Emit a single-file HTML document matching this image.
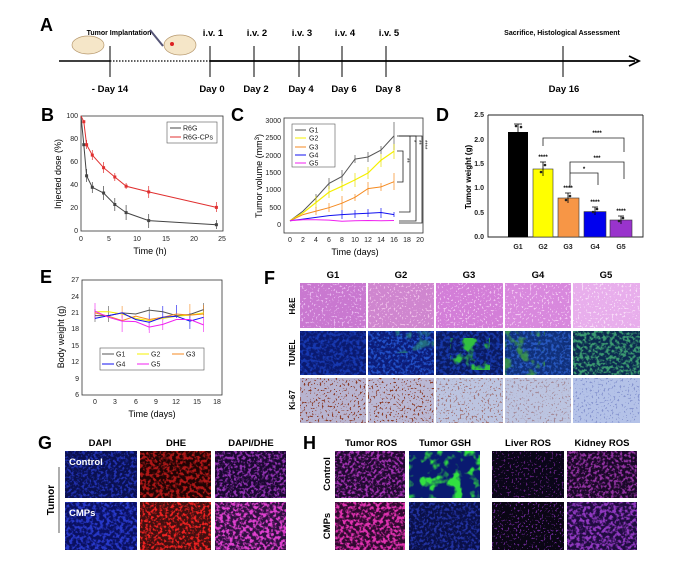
<!DOCTYPE html>
<html><head><meta charset="utf-8"><style>
html,body{margin:0;padding:0;background:#fff;}
svg{display:block;font-family:"Liberation Sans",Arial,sans-serif;}
.t{font-size:7px;fill:#222}
.b{font-weight:bold}
</style></head><body>
<svg width="692" height="573" viewBox="0 0 692 573" xmlns="http://www.w3.org/2000/svg">
<defs>
<filter id="s1" x="0" y="0" width="100%" height="100%"><feTurbulence type="fractalNoise" baseFrequency="0.35" numOctaves="2" seed="1" result="n"/><feColorMatrix in="n" type="matrix" values="0 0 0 0 0 0 0 0 0 0 0 0 0 0 0 5 0 0 0 -2.3" result="m"/><feComposite in="SourceGraphic" in2="m" operator="in"/></filter>
<filter id="s2" x="0" y="0" width="100%" height="100%"><feTurbulence type="fractalNoise" baseFrequency="0.3" numOctaves="2" seed="7" result="n"/><feColorMatrix in="n" type="matrix" values="0 0 0 0 0 0 0 0 0 0 0 0 0 0 0 5 0 0 0 -2.2" result="m"/><feComposite in="SourceGraphic" in2="m" operator="in"/></filter>
<filter id="s3" x="0" y="0" width="100%" height="100%"><feTurbulence type="fractalNoise" baseFrequency="0.08" numOctaves="3" seed="4" result="n"/><feColorMatrix in="n" type="matrix" values="0 0 0 0 0 0 0 0 0 0 0 0 0 0 0 6 0 0 0 -3" result="m"/><feComposite in="SourceGraphic" in2="m" operator="in"/></filter>
<filter id="s4" x="0" y="0" width="100%" height="100%"><feTurbulence type="fractalNoise" baseFrequency="0.5" numOctaves="1" seed="9" result="n"/><feColorMatrix in="n" type="matrix" values="0 0 0 0 0 0 0 0 0 0 0 0 0 0 0 8 0 0 0 -4.6" result="m"/><feComposite in="SourceGraphic" in2="m" operator="in"/></filter>
</defs>

<!-- Panel A -->
<text x="40" y="31" font-size="18" class="b">A</text>
<text x="119" y="35" font-size="7" text-anchor="middle" class="b">Tumor Implantation</text>
<ellipse cx="88" cy="45" rx="16" ry="9" fill="#f5e6c8" stroke="#b89a70" stroke-width="0.7"/>
<ellipse cx="180" cy="45" rx="16" ry="10" fill="#f5e6c8" stroke="#b89a70" stroke-width="0.7"/>
<circle cx="172" cy="44" r="2" fill="#d22"/>
<line x1="150" y1="30" x2="163" y2="46" stroke="#557" stroke-width="2"/>
<line x1="59" y1="61" x2="110" y2="61" stroke="#000" stroke-width="1.6"/>
<line x1="110" y1="61" x2="210" y2="61" stroke="#000" stroke-width="1.2" stroke-dasharray="1.5,1.5"/>
<line x1="210" y1="61" x2="635" y2="61" stroke="#000" stroke-width="1.8"/>
<path d="M629 56 L639 61 L629 66" fill="none" stroke="#000" stroke-width="1.8"/>
<g stroke="#000" stroke-width="1">
<line x1="110" y1="46" x2="110" y2="77"/><line x1="210" y1="46" x2="210" y2="77"/><line x1="254" y1="46" x2="254" y2="77"/><line x1="299" y1="46" x2="299" y2="77"/><line x1="342" y1="46" x2="342" y2="77"/><line x1="386" y1="46" x2="386" y2="77"/><line x1="563" y1="46" x2="563" y2="77"/>
</g>
<g font-size="9.5" class="b" text-anchor="middle">
<text x="213" y="36">i.v. 1</text><text x="257" y="36">i.v. 2</text><text x="302" y="36">i.v. 3</text><text x="345" y="36">i.v. 4</text><text x="389" y="36">i.v. 5</text>
<text x="110" y="92">- Day 14</text><text x="212" y="92">Day 0</text><text x="256" y="92">Day 2</text><text x="301" y="92">Day 4</text><text x="344" y="92">Day 6</text><text x="388" y="92">Day 8</text><text x="564" y="92">Day 16</text>
</g>
<text x="562" y="35" font-size="7" text-anchor="middle" class="b">Sacrifice,  Histological Assessment</text>

<!-- Panel B -->
<text x="41" y="121" font-size="18" class="b">B</text>
<rect x="81" y="116" width="142" height="115" fill="none" stroke="#333" stroke-width="0.8"/>
<g class="t" text-anchor="end"><text x="78" y="233">0</text><text x="78" y="210">20</text><text x="78" y="187">40</text><text x="78" y="164">60</text><text x="78" y="141">80</text><text x="78" y="118">100</text></g>
<g class="t" text-anchor="middle"><text x="81" y="241">0</text><text x="109" y="241">5</text><text x="137" y="241">10</text><text x="166" y="241">15</text><text x="194" y="241">20</text><text x="222" y="241">25</text></g>
<text x="150" y="254" font-size="9" text-anchor="middle">Time (h)</text>
<text transform="translate(61,174) rotate(-90)" font-size="9" text-anchor="middle">Injected dose (%)</text>
<polyline fill="none" stroke="#444" stroke-width="1" points="81,116 83.8,144.7 86.6,175.8 92.3,187.3 103.6,193 114.8,204.5 126.1,212.6 148.7,220.6 216.4,224.7"/>
<polyline fill="none" stroke="#e03030" stroke-width="1" points="81,116 83.8,121.7 86.6,144.7 92.3,155.1 103.6,167.7 114.8,177 126.1,186.2 148.7,191.9 216.4,207.4"/>
<g stroke="#444" stroke-width="0.7"><path d="M86.6 169v13M92.3 182v11M103.6 186v14M114.8 198v13M126.1 205v15M148.7 214v14M216.4 220v9"/></g>
<g stroke="#e03030" stroke-width="0.7"><path d="M86.6 140v9M92.3 150v10M103.6 162v11M114.8 173v8M126.1 183v6M148.7 186v12M216.4 202v10"/></g>
<g fill="#444"><rect x="82.3" y="143.2" width="3" height="3"/><rect x="85.1" y="174.3" width="3" height="3"/><rect x="90.8" y="185.8" width="3" height="3"/><rect x="102.1" y="191.5" width="3" height="3"/><rect x="113.3" y="203" width="3" height="3"/><rect x="124.6" y="211.1" width="3" height="3"/><rect x="147.2" y="219.1" width="3" height="3"/><rect x="214.9" y="223.2" width="3" height="3"/></g>
<g fill="#e03030"><rect x="82.3" y="120.2" width="3" height="3"/><rect x="85.1" y="143.2" width="3" height="3"/><rect x="90.8" y="153.6" width="3" height="3"/><rect x="102.1" y="166.2" width="3" height="3"/><rect x="113.3" y="175.5" width="3" height="3"/><rect x="124.6" y="184.7" width="3" height="3"/><rect x="147.2" y="190.4" width="3" height="3"/><rect x="214.9" y="205.9" width="3" height="3"/></g>
<rect x="167" y="122" width="50" height="21" fill="#fff" stroke="#555" stroke-width="0.6"/>
<line x1="170" y1="128" x2="181" y2="128" stroke="#444"/><text x="183" y="130.5" class="t">R6G</text>
<line x1="170" y1="137" x2="181" y2="137" stroke="#e03030"/><text x="183" y="139.5" class="t">R6G-CPs</text>

<!-- Panel C -->
<text x="231" y="121" font-size="18" class="b">C</text>
<rect x="284" y="118" width="139" height="115" fill="none" stroke="#333" stroke-width="0.8"/>
<g class="t" text-anchor="end"><text x="281" y="227">0</text><text x="281" y="210">500</text><text x="281" y="192">1000</text><text x="281" y="175">1500</text><text x="281" y="158">2000</text><text x="281" y="140">2500</text><text x="281" y="123">3000</text></g>
<g class="t" text-anchor="middle"><text x="290" y="242">0</text><text x="303" y="242">2</text><text x="316" y="242">4</text><text x="329" y="242">6</text><text x="342" y="242">8</text><text x="355" y="242">10</text><text x="368" y="242">12</text><text x="381" y="242">14</text><text x="394" y="242">16</text><text x="407" y="242">18</text><text x="420" y="242">20</text></g>
<text x="355" y="255" font-size="9" text-anchor="middle">Time (days)</text>
<text transform="translate(262,176) rotate(-90)" font-size="9" text-anchor="middle">Tumor volume (mm<tspan font-size="6" dy="-3">3</tspan><tspan dy="3">)</tspan></text>
<polyline fill="none" stroke="#555" stroke-width="1" points="290,220.8 303,211.1 316,198 329,183.4 342,176.5 355,159.1 368,157 381,150.1 394,135.9"/>
<polyline fill="none" stroke="#f5f000" stroke-width="1.2" points="290,220.8 303,212.9 316,202.5 329,192.1 342,186.2 355,179.9 368,173 381,160.2 394,151.2"/>
<polyline fill="none" stroke="#f58a20" stroke-width="1" points="290,220.8 303,214.6 316,211.1 329,207.7 342,203.2 355,197.3 368,188.6 381,186.9 394,181.7"/>
<polyline fill="none" stroke="#1010f0" stroke-width="1" points="290,220.8 303,219.1 316,217.4 329,215.6 342,214.6 355,213.9 368,213.2 381,212.5 394,214.6"/>
<polyline fill="none" stroke="#f020f0" stroke-width="1" points="290,220.8 303,219.8 316,219.8 329,220.1 342,221.2 355,220.8 368,220.5 381,220.8 394,220.5"/>
<g stroke="#555" stroke-width="0.7"><path d="M316 194v8M329 178v11M342 170v13M355 155v8M368 152v10M381 146v8M394 122v28"/></g>
<g stroke="#e8e000" stroke-width="0.7"><path d="M316 196v12M329 186v12M342 181v10M355 173v14M368 167v12M381 154v13M394 144v15"/></g>
<g stroke="#f58a20" stroke-width="0.7"><path d="M316 207v8M329 203v9M342 196v14M355 194v7M368 182v13M381 183v8M394 173v17"/></g>
<g stroke="#1010f0" stroke-width="0.7"><path d="M342 210v9M355 210v8M368 209v8M381 208v10M394 212v5"/></g>
<g stroke="#222" stroke-width="0.8" fill="none">
<path d="M397 151H403V182H397"/><path d="M397 136H410V212H399"/><path d="M399 136H416V221H399"/><path d="M399 136H422V223H399"/>
</g>
<g font-size="6" fill="#222"><text transform="translate(405,158) rotate(90)">**</text><text transform="translate(412,140) rotate(90)">*</text><text transform="translate(417,140) rotate(90)">**</text><text transform="translate(423,140) rotate(90)">****</text></g>
<rect x="292" y="124" width="43" height="43" fill="#fff" stroke="#555" stroke-width="0.6"/>
<g stroke-width="1"><line x1="295" y1="130" x2="306" y2="130" stroke="#555"/><line x1="295" y1="138" x2="306" y2="138" stroke="#f5f000"/><line x1="295" y1="147" x2="306" y2="147" stroke="#f58a20"/><line x1="295" y1="155" x2="306" y2="155" stroke="#1010f0"/><line x1="295" y1="163" x2="306" y2="163" stroke="#f020f0"/></g>
<g class="t"><text x="309" y="132.5">G1</text><text x="309" y="140.5">G2</text><text x="309" y="149.5">G3</text><text x="309" y="157.5">G4</text><text x="309" y="165.5">G5</text></g>

<!-- Panel D -->
<text x="436" y="121" font-size="18" class="b">D</text>
<path d="M488 115V237H643V115" fill="none" stroke="#222" stroke-width="0.9"/>
<line x1="488" y1="115" x2="643" y2="115" stroke="#222" stroke-width="0.9"/>
<g class="t b" text-anchor="end"><text x="484" y="239">0.0</text><text x="484" y="215">0.5</text><text x="484" y="190">1.0</text><text x="484" y="166">1.5</text><text x="484" y="142">2.0</text><text x="484" y="117">2.5</text></g>
<text transform="translate(471,177) rotate(-90)" font-size="8" class="b" text-anchor="middle">Tumor weight (g)</text>
<rect x="508" y="132" width="20" height="105" fill="#000"/>
<rect x="533" y="169" width="20" height="68" fill="#ffff00" stroke="#333" stroke-width="0.6"/>
<rect x="558" y="198" width="21" height="39" fill="#f79646" stroke="#333" stroke-width="0.6"/>
<rect x="584" y="211.6" width="22" height="25.4" fill="#0000ee" stroke="#333" stroke-width="0.6"/>
<rect x="610" y="220" width="22" height="17" fill="#9933cc" stroke="#333" stroke-width="0.6"/>
<g stroke="#000" stroke-width="0.8"><path d="M518 124v8M514 124h8M543 162v14M540 162h6M568 193v10M565 193h6M595 207v8M592 207h6M621 216v8M618 216h6"/></g>
<g fill="#222"><circle cx="516" cy="126" r="1.3"/><circle cx="521" cy="127" r="1.3"/><circle cx="541" cy="172" r="1.3"/><circle cx="545" cy="165" r="1.3"/><circle cx="566" cy="200" r="1.3"/><circle cx="570" cy="196" r="1.3"/><circle cx="593" cy="212" r="1.3"/><circle cx="597" cy="209" r="1.3"/><circle cx="619" cy="221" r="1.3"/><circle cx="623" cy="218" r="1.3"/></g>
<g class="t b" text-anchor="middle" font-size="8"><text x="518" y="249">G1</text><text x="543" y="249">G2</text><text x="568" y="249">G3</text><text x="595" y="249">G4</text><text x="621" y="249">G5</text></g>
<g font-size="6" text-anchor="middle" class="b"><text x="543" y="159">****</text><text x="568" y="190">****</text><text x="595" y="204">****</text><text x="621" y="213">****</text><text x="597" y="135">****</text><text x="597" y="160">***</text><text x="584" y="171">*</text></g>
<g stroke="#222" stroke-width="0.8" fill="none"><path d="M543 146V138H624V152"/><path d="M570 188V162H624V179"/><path d="M570 173H598V185"/></g>

<!-- Panel E -->
<text x="40" y="283" font-size="18" class="b">E</text>
<rect x="82" y="280" width="140" height="115" fill="none" stroke="#333" stroke-width="0.8"/>
<g class="t" text-anchor="end"><text x="79" y="282">27</text><text x="79" y="299">24</text><text x="79" y="315">21</text><text x="79" y="331">18</text><text x="79" y="348">15</text><text x="79" y="364">12</text><text x="79" y="381">9</text><text x="79" y="397">6</text></g>
<g class="t" text-anchor="middle"><text x="95" y="404">0</text><text x="115" y="404">3</text><text x="136" y="404">6</text><text x="156" y="404">9</text><text x="176" y="404">12</text><text x="197" y="404">15</text><text x="217" y="404">18</text></g>
<text x="152" y="417" font-size="9" text-anchor="middle">Time (days)</text>
<text transform="translate(64,337) rotate(-90)" font-size="9" text-anchor="middle">Body weight (g)</text>
<g stroke-width="0.6">
<path stroke="#555" d="M95 309v13M108.6 306v16M149.2 307v7M203.5 303v12"/>
<path stroke="#f58a20" d="M122.1 306v12M203.5 305v12M189.9 304v14"/>
<path stroke="#1010f0" d="M149.2 314v16M162.8 306v14M176.4 305v13M189.9 313v16"/>
<path stroke="#f020f0" d="M95 303v16M122.1 312v20M149.2 321v12M162.8 318v12M203.5 317v15"/>
</g>
<g fill="none" stroke-width="1">
<polyline stroke="#555" points="95,315.6 108.6,315.6 122.1,312.9 135.7,314 149.2,310.1 162.8,311.8 176.4,315.6 189.9,314.5 203.5,309.6"/>
<polyline stroke="#f5f000" points="95,311.8 108.6,311.8 122.1,314 135.7,318.4 149.2,320.6 162.8,318.4 176.4,316.2 189.9,315.1 203.5,312.9"/>
<polyline stroke="#f58a20" points="95,312.9 108.6,316.2 122.1,320.6 135.7,316.2 149.2,319.5 162.8,317.3 176.4,314 189.9,315.1 203.5,314"/>
<polyline stroke="#1010f0" points="95,318.4 108.6,315.6 122.1,312.9 135.7,319.5 149.2,322.2 162.8,317.3 176.4,316.2 189.9,321.1 203.5,317.3"/>
<polyline stroke="#f020f0" points="95,311.2 108.6,317.3 122.1,321.1 135.7,321.6 149.2,327.1 162.8,324.4 176.4,319.5 189.9,319.5 203.5,324.9"/>
</g>
<rect x="100" y="348" width="104" height="22" fill="#fff" stroke="#555" stroke-width="0.6"/>
<g stroke-width="1"><line x1="102" y1="354" x2="114" y2="354" stroke="#555"/><line x1="137" y1="354" x2="149" y2="354" stroke="#f5f000"/><line x1="172" y1="354" x2="184" y2="354" stroke="#f58a20"/><line x1="102" y1="364" x2="114" y2="364" stroke="#1010f0"/><line x1="137" y1="364" x2="149" y2="364" stroke="#f020f0"/></g>
<g class="t"><text x="116" y="356.5">G1</text><text x="151" y="356.5">G2</text><text x="186" y="356.5">G3</text><text x="116" y="366.5">G4</text><text x="151" y="366.5">G5</text></g>

<!-- Panel F -->
<text x="264" y="284" font-size="18" class="b">F</text>
<g font-size="9.5" class="b" text-anchor="middle"><text x="333" y="278">G1</text><text x="401" y="278">G2</text><text x="469" y="278">G3</text><text x="538" y="278">G4</text><text x="606" y="278">G5</text></g>
<g font-size="8" class="b" text-anchor="middle"><text transform="translate(295,306) rotate(-90)">H&amp;E</text><text transform="translate(295,353) rotate(-90)">TUNEL</text><text transform="translate(295,400) rotate(-90)">Ki-67</text></g>
<!-- H&E -->
<rect x="300" y="283" width="66" height="45" fill="#c978d0"/><rect x="300" y="283" width="66" height="45" fill="#e8b6ee" filter="url(#s4)"/>
<rect x="368" y="283" width="66" height="45" fill="#cf86cf"/><rect x="368" y="283" width="66" height="45" fill="#eebbe8" filter="url(#s4)"/>
<rect x="436" y="283" width="67" height="45" fill="#d37ed8"/><rect x="436" y="283" width="67" height="45" fill="#f0c0f0" filter="url(#s4)"/>
<rect x="505" y="283" width="66" height="45" fill="#d888dd"/><rect x="505" y="283" width="66" height="45" fill="#f2c6f2" filter="url(#s4)"/>
<rect x="573" y="283" width="67" height="45" fill="#e8aeec"/><rect x="573" y="283" width="67" height="45" fill="#f8dcf8" filter="url(#s4)"/>
<!-- TUNEL -->
<rect x="300" y="331" width="66" height="44" fill="#0a1a70"/><rect x="300" y="331" width="66" height="44" fill="#1838b0" filter="url(#s2)"/>
<rect x="368" y="331" width="66" height="44" fill="#0c1c78"/><rect x="368" y="331" width="66" height="44" fill="#2050c8" filter="url(#s1)"/><rect x="395" y="331" width="39" height="22" fill="#30a080" filter="url(#s3)" opacity="0.6"/>
<rect x="436" y="331" width="67" height="44" fill="#0a1a60"/><rect x="436" y="331" width="67" height="44" fill="#1838a8" filter="url(#s2)"/><rect x="450" y="338" width="40" height="32" fill="#30c040" filter="url(#s3)"/>
<rect x="505" y="331" width="66" height="44" fill="#10307a"/><rect x="505" y="331" width="66" height="44" fill="#2858c0" filter="url(#s1)"/><rect x="505" y="331" width="40" height="44" fill="#40a040" filter="url(#s3)" opacity="0.8"/>
<rect x="573" y="331" width="67" height="44" fill="#0c2a50"/><rect x="573" y="331" width="67" height="44" fill="#3a9a70" filter="url(#s2)"/>
<!-- Ki-67 -->
<rect x="300" y="378" width="66" height="45" fill="#b8b4d0"/><rect x="300" y="378" width="66" height="45" fill="#8a3a28" filter="url(#s4)"/>
<rect x="368" y="378" width="66" height="45" fill="#bab8d4"/><rect x="368" y="378" width="66" height="45" fill="#8a3a28" filter="url(#s4)"/>
<rect x="436" y="378" width="67" height="45" fill="#bcc4e0"/><rect x="436" y="378" width="67" height="45" fill="#904030" filter="url(#s4)" opacity="0.6"/>
<rect x="505" y="378" width="66" height="45" fill="#bcc4e0"/><rect x="505" y="378" width="66" height="45" fill="#8a4a48" filter="url(#s4)" opacity="0.45"/>
<rect x="573" y="378" width="67" height="45" fill="#b4c2e8"/><rect x="573" y="378" width="67" height="45" fill="#6a78c0" filter="url(#s4)" opacity="0.6"/>

<!-- Panel G -->
<text x="38" y="449" font-size="18" class="b">G</text>
<g font-size="9.5" class="b" text-anchor="middle"><text x="100" y="446">DAPI</text><text x="176" y="446">DHE</text><text x="251" y="446">DAPI/DHE</text></g>
<text transform="translate(54,500) rotate(-90)" font-size="10" class="b" text-anchor="middle">Tumor</text>
<line x1="59" y1="467" x2="59" y2="533" stroke="#333" stroke-width="0.8"/>
<rect x="65" y="451" width="72" height="47" fill="#0a1050"/><rect x="65" y="451" width="72" height="47" fill="#2030b0" filter="url(#s1)"/>
<rect x="140" y="451" width="71" height="47" fill="#200404"/><rect x="140" y="451" width="71" height="47" fill="#b01818" filter="url(#s2)"/>
<rect x="215" y="451" width="71" height="47" fill="#1a0830"/><rect x="215" y="451" width="71" height="47" fill="#9030b0" filter="url(#s1)"/>
<rect x="65" y="502" width="72" height="48" fill="#0a1060"/><rect x="65" y="502" width="72" height="48" fill="#2838c8" filter="url(#s2)"/>
<rect x="140" y="502" width="71" height="48" fill="#401010"/><rect x="140" y="502" width="71" height="48" fill="#ee2020" filter="url(#s1)"/>
<rect x="215" y="502" width="71" height="48" fill="#301040"/><rect x="215" y="502" width="71" height="48" fill="#e040d0" filter="url(#s2)"/>
<text x="69" y="465" font-size="9.5" class="b" fill="#fff">Control</text>
<text x="69" y="516" font-size="9.5" class="b" fill="#fff">CMPs</text>

<!-- Panel H -->
<text x="303" y="449" font-size="18" class="b">H</text>
<g font-size="9.5" class="b" text-anchor="middle"><text x="371" y="446">Tumor ROS</text><text x="445" y="446">Tumor GSH</text><text x="528" y="446">Liver ROS</text><text x="602" y="446">Kidney ROS</text></g>
<g font-size="9.5" class="b" text-anchor="middle"><text transform="translate(330,474) rotate(-90)">Control</text><text transform="translate(330,526) rotate(-90)">CMPs</text></g>
<rect x="335" y="451" width="70" height="47" fill="#200a30"/><rect x="335" y="451" width="70" height="47" fill="#a030b0" filter="url(#s1)"/>
<rect x="409" y="451" width="71" height="47" fill="#0a1a70"/><rect x="409" y="451" width="71" height="47" fill="#30e040" filter="url(#s3)"/>
<rect x="492" y="451" width="72" height="47" fill="#0a0618"/><rect x="492" y="451" width="72" height="47" fill="#702890" filter="url(#s4)" opacity="0.8"/>
<rect x="567" y="451" width="70" height="47" fill="#1a0828"/><rect x="567" y="451" width="70" height="47" fill="#9030a0" filter="url(#s1)"/>
<rect x="335" y="502" width="70" height="48" fill="#300a30"/><rect x="335" y="502" width="70" height="48" fill="#e030b0" filter="url(#s2)"/>
<rect x="409" y="502" width="71" height="48" fill="#0a1048"/><rect x="409" y="502" width="71" height="48" fill="#2030a0" filter="url(#s1)"/>
<rect x="492" y="502" width="72" height="48" fill="#0a0614"/><rect x="492" y="502" width="72" height="48" fill="#8030b0" filter="url(#s4)" opacity="0.8"/>
<rect x="567" y="502" width="70" height="48" fill="#200c40"/><rect x="567" y="502" width="70" height="48" fill="#9038c0" filter="url(#s2)"/>
</svg>
</body></html>
